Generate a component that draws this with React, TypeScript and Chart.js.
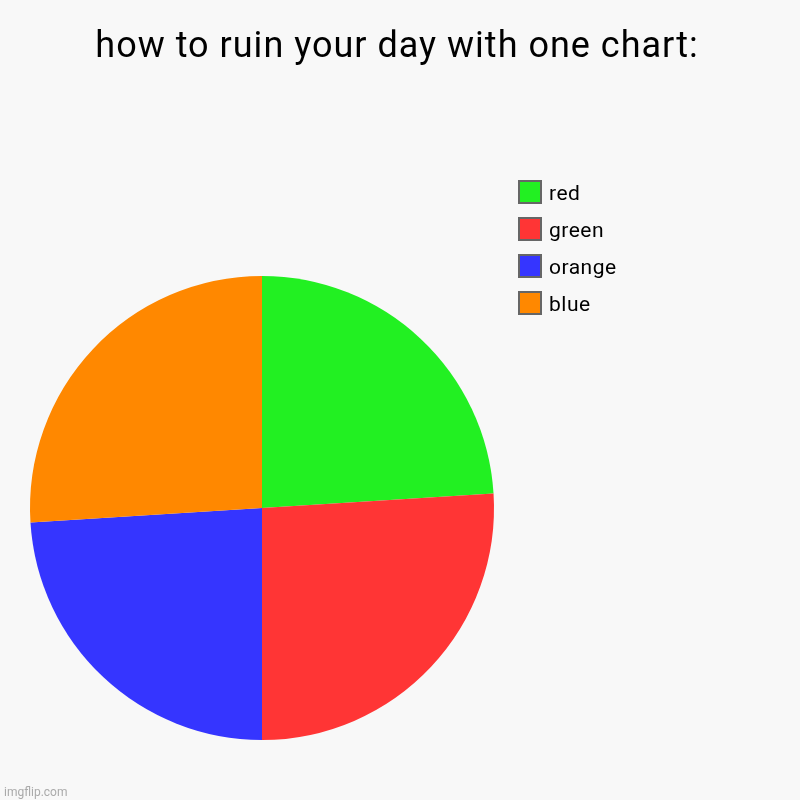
import { useEffect, useRef } from 'react'
import { Chart, registerables, Plugin } from 'chart.js'

Chart.register(...registerables)

const TITLE = 'how to ruin your day with one chart:'
const labels = ['red', 'green', 'orange', 'blue']
const values = [24, 26, 24, 26]
const colors = ['#22f022', '#ff3535', '#3535ff', '#ff8800']

const BG = '#f8f8f8'
const FONT = 'Roboto, "Noto Sans", sans-serif'

// background, title, legend and watermark drawn on the canvas
const decorPlugin: Plugin<'pie'> = {
  id: 'decor',
  beforeDraw(chart) {
    const { ctx, width, height } = chart
    ctx.save()
    ctx.fillStyle = BG
    ctx.fillRect(0, 0, width, height)
    ctx.restore()
  },
  afterDraw(chart) {
    const { ctx } = chart
    const c = ctx as any
    ctx.save()
    ctx.fillStyle = '#000'
    ctx.font = `36px ${FONT}`
    c.letterSpacing = '1px'
    ctx.textAlign = 'center'
    ctx.textBaseline = 'alphabetic'
    ctx.fillText(TITLE, 397, 57)

    const ds = chart.data.datasets[0]
    const bg = ds.backgroundColor as string[]
    c.letterSpacing = '0.5px'
    ;(chart.data.labels as string[]).forEach((lab, i) => {
      const y = 180 + i * 37
      ctx.fillStyle = bg[i]
      ctx.fillRect(519, y + 1, 22, 22)
      ctx.strokeStyle = '#666'
      ctx.lineWidth = 2
      ctx.strokeRect(519, y + 1, 22, 22)
      ctx.fillStyle = '#000'
      ctx.font = `21px ${FONT}`
      ctx.textAlign = 'left'
      ctx.textBaseline = 'alphabetic'
      ctx.fillText(lab, 549, y + 20)
    })

    c.letterSpacing = '0px'
    ctx.fillStyle = '#aaa'
    ctx.font = `12px ${FONT}`
    ctx.fillText('imgflip.com', 4, 796)
    ctx.restore()
  }
}

const App = () => {
  const canvasRef = useRef<HTMLCanvasElement>(null)

  useEffect(() => {
    document.body.style.margin = '0'
    if (!canvasRef.current) return
    const chart = new Chart(canvasRef.current, {
      type: 'pie',
      data: {
        labels,
        datasets: [
          {
            data: values,
            backgroundColor: colors,
            borderWidth: 0
          }
        ]
      },
      options: {
        responsive: false,
        animation: false,
        devicePixelRatio: 1,
        layout: { padding: { left: 30, right: 306, top: 276, bottom: 60 } },
        plugins: {
          legend: { display: false },
          title: { display: false },
          tooltip: { enabled: false }
        }
      },
      plugins: [decorPlugin]
    })
    return () => chart.destroy()
  }, [])

  return (
    <div style={{ width: 800, height: 800, background: BG }}>
      <canvas ref={canvasRef} width={800} height={800} />
    </div>
  )
}

export default App
